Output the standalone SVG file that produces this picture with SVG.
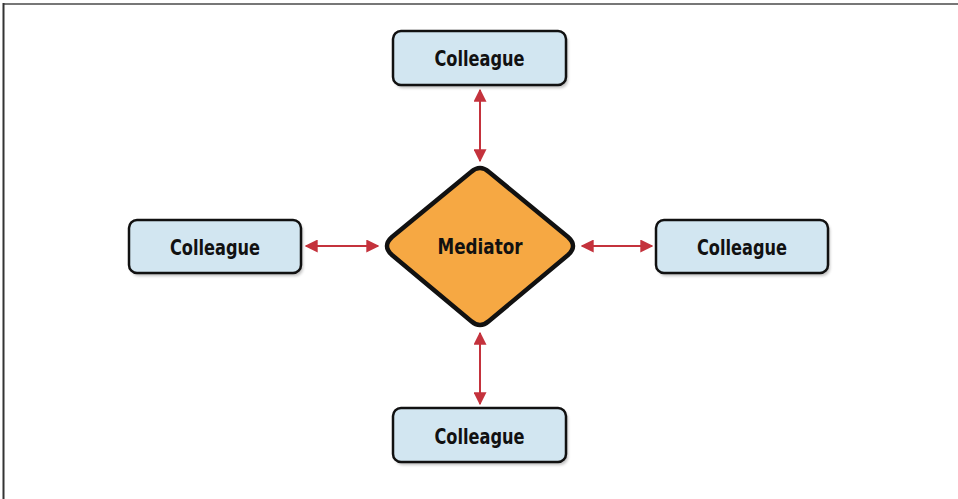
<svg xmlns="http://www.w3.org/2000/svg" width="958" height="499" viewBox="0 0 958 499">
<defs>
<style>
.box{fill:#d2e6f1;stroke:#111;stroke-width:2.5}
.shadow{fill:#000;opacity:0.25;filter:url(#blur)}
.lbl{font-family:"DejaVu Sans Condensed","DejaVu Sans",sans-serif;font-stretch:condensed;font-weight:bold;font-size:22px;fill:#111;text-anchor:middle}
.conn{stroke:#c4323c;stroke-width:2;fill:none;marker-start:url(#ah);marker-end:url(#ah)}
</style>
<filter id="blur" x="-20%" y="-20%" width="140%" height="140%"><feGaussianBlur stdDeviation="1.5"/></filter>
<marker id="ah" viewBox="0 0 10 10" refX="9" refY="5" markerWidth="6.5" markerHeight="6.5" markerUnits="strokeWidth" orient="auto-start-reverse">
<path d="M0,0 L10,5 L0,10 z" fill="#c4323c"/>
</marker>
</defs>
<rect width="958" height="499" fill="#fff"/>
<line x1="3" y1="4" x2="958" y2="4" stroke="#777" stroke-width="2"/>
<line x1="3.5" y1="3" x2="3.5" y2="499" stroke="#333" stroke-width="2"/>
<g id="connectors">
<line class="conn" x1="480" y1="90" x2="480" y2="161"/>
<line class="conn" x1="480" y1="333" x2="480" y2="404"/>
<line class="conn" x1="306" y1="246" x2="378" y2="246"/>
<line class="conn" x1="582" y1="246" x2="652" y2="246"/>
</g>
<g id="top">
<rect class="shadow" x="395" y="34" width="173" height="54" rx="8"/>
<rect class="box" x="393" y="31" width="173" height="54" rx="8"/>
<text class="lbl" x="479.5" y="66" textLength="90" lengthAdjust="spacingAndGlyphs">Colleague</text>
</g>
<g id="left">
<rect class="shadow" x="131" y="223" width="172" height="53" rx="8"/>
<rect class="box" x="129" y="220" width="172" height="53" rx="8"/>
<text class="lbl" x="215" y="255" textLength="90" lengthAdjust="spacingAndGlyphs">Colleague</text>
</g>
<g id="right">
<rect class="shadow" x="658" y="223" width="172" height="53" rx="8"/>
<rect class="box" x="656" y="220" width="172" height="53" rx="8"/>
<text class="lbl" x="742" y="255" textLength="90" lengthAdjust="spacingAndGlyphs">Colleague</text>
</g>
<g id="bottom">
<rect class="shadow" x="395" y="411" width="173" height="54" rx="8"/>
<rect class="box" x="393" y="408" width="173" height="54" rx="8"/>
<text class="lbl" x="479.5" y="444" textLength="90" lengthAdjust="spacingAndGlyphs">Colleague</text>
</g>
<g id="mediator">
<path d="M471,172 Q480,164 489,172 L568,237 Q578,246 568,255 L489,321 Q480,329 471,321 L392,255 Q382,246 392,237 Z" fill="#f6a843" stroke="#111" stroke-width="4.5" stroke-linejoin="round"/>
<text class="lbl" x="480" y="254" textLength="85" lengthAdjust="spacingAndGlyphs">Mediator</text>
</g>
</svg>
